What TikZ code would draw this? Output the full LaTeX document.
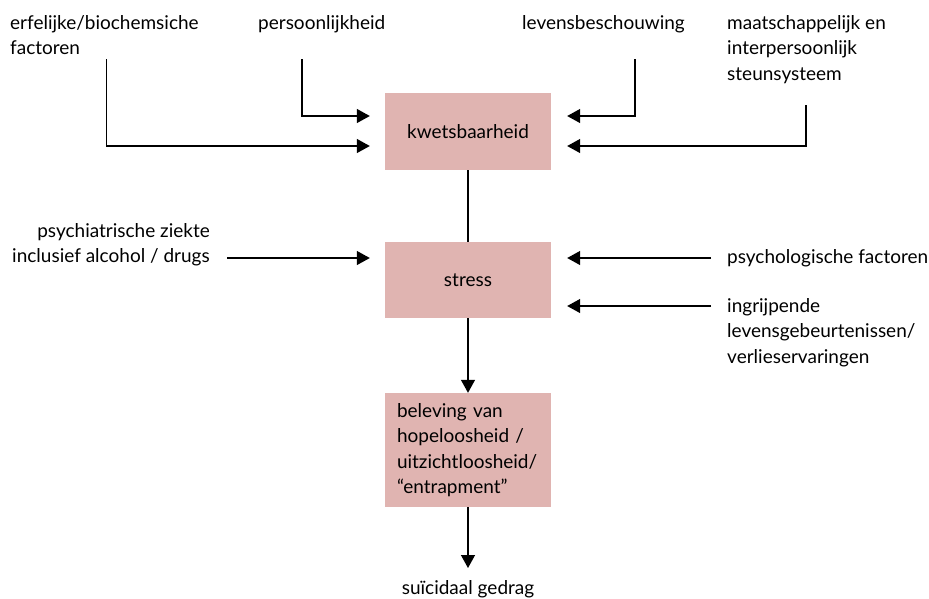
\documentclass[tikz,border=0pt]{standalone}
\usepackage{fontspec}
\setmainfont{Lato}
\usetikzlibrary{arrows.meta}
\definecolor{boxpink}{RGB}{224,180,177}
\begin{document}
\begin{tikzpicture}[x=1pt,y=-1pt,
  box/.style={fill=boxpink, minimum width=166pt, inner sep=0, font=\fontsize{19}{25.5}\selectfont},
  lbl/.style={inner sep=0, align=left, font=\fontsize{19}{25.5}\selectfont},
  lblr/.style={inner sep=0, align=right, font=\fontsize{19}{25.5}\selectfont},
  con/.style={line width=1.3pt, -{Triangle[length=13pt,width=14pt]}},
  plain/.style={line width=1.3pt}]
\useasboundingbox (0,0) rectangle (929,598);
% boxes
\node[box, minimum height=77pt] (k) at (468,131.5) {kwetsbaarheid};
\node[box, minimum height=76pt] (s) at (468,280) {stress};
\node[box, minimum height=114pt, text width=142pt, inner xsep=12pt, align=left] (h) at (468,450)
  {beleving van\\hopeloosheid /\\uitzichtloosheid/\\“entrapment”};
% labels
\node[lbl, anchor=base west] (erf) at (10,29) {erfelijke/biochemsiche};
\node[lbl, anchor=base west] (erf2) at (10,54.5) {factoren};
\node[lbl, anchor=base west] (per) at (258,29) {persoonlijkheid};
\node[lbl, anchor=base west] (lev) at (522,29) {levensbeschouwing};
\node[lbl, anchor=base west] (maa) at (727,29) {maatschappelijk en};
\node[lbl, anchor=base west] (maa2) at (727,54.5) {interpersoonlijk};
\node[lbl, anchor=base west] (maa3) at (727,80) {steunsysteem};
\node[lblr, anchor=base east] (psy) at (210,237) {psychiatrische ziekte};
\node[lblr, anchor=base east] (psy2) at (210,262.5) {inclusief alcohol / drugs};
\node[lbl, anchor=base west] (pf) at (727,263) {psychologische factoren};
\node[lbl, anchor=base west] (ing) at (727,312) {ingrijpende};
\node[lbl, anchor=base west] (ing2) at (727,337.5) {levensgebeurtenissen/};
\node[lbl, anchor=base west] (ing3) at (727,363) {verlieservaringen};
\node[lbl, anchor=base] (sui) at (468,594) {suïcidaal gedrag};
% connector start points
\coordinate (e1) at (106.5,59);
\coordinate (p1) at (302,59);
\coordinate (l1) at (635,59);
\coordinate (m1) at (806,105);
\coordinate (ps1) at (227,258);
\coordinate (pf1) at (711,258);
\coordinate (in1) at (711,306);
\coordinate (su1) at (468,568);
% connectors
\draw[con, shorten >=15pt] (e1) |- ([yshift=-14.5pt]k.west);
\draw[con, shorten >=15pt] (p1) |- ([yshift=15.5pt]k.west);
\draw[con, shorten >=16pt] (l1) |- ([yshift=15.5pt]k.east);
\draw[con, shorten >=16pt] (m1) |- ([yshift=-14.5pt]k.east);
\draw[con, shorten >=15pt] (ps1) -- (ps1 -| s.west);
\draw[con, shorten >=16pt] (pf1) -- (pf1 -| s.east);
\draw[con, shorten >=16pt] (in1) -- (in1 -| s.east);
\draw[plain] (k.south) -- (s.north);
\draw[con] (s.south) -- (h.north);
\draw[con] (h.south) -- (su1);
\end{tikzpicture}
\end{document}
